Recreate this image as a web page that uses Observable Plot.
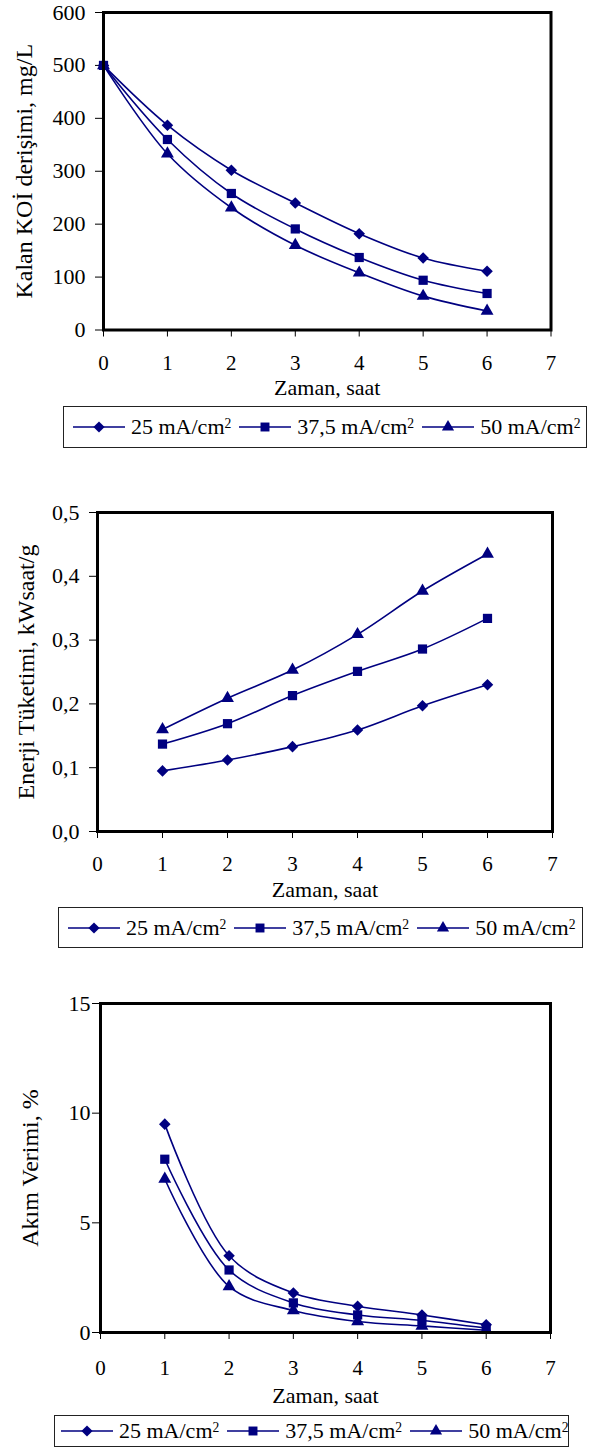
<!DOCTYPE html>
<html>
<head>
<meta charset="utf-8">
<script src="https://cdn.jsdelivr.net/npm/d3@7"></script>
<script src="https://cdn.jsdelivr.net/npm/@observablehq/plot@0.6"></script>
<style>
  body { margin: 0; background: #fff; }
  #page { position: relative; width: 589px; height: 1452px; overflow: hidden;
          font-family: 'Liberation Serif', serif; color: #000; }
  .chart { position: absolute; left: 0; overflow: visible; }
  .chart, .chart text { font-family: 'Liberation Serif', serif !important; }
  .legend { position: absolute; box-sizing: border-box; border: 1px solid #222; background: #fff;
            display: flex; align-items: center; white-space: nowrap; font-family: 'Liberation Serif', serif; }
  .item { display: flex; align-items: center; }
  .item svg { display: block; }
  .item .lbl { margin: 0 8px 0 6px; }
  .item .sup { display: inline-block; font-size: 0.62em; transform: translateY(-0.45em); }
</style>
</head>
<body>
<div id="page"></div>
<script>
// Series (current density) and their markers
const seriesNames = ["25 mA/cm²", "37,5 mA/cm²", "50 mA/cm²"];
const seriesSymbols = ["diamond2", "square", "triangle"];

// Remaining COD concentration, mg/L
const codTime = [0, 1, 2, 3, 4, 5, 6];
const cod25 = [500, 387, 302, 240, 182, 136, 111];
const cod375 = [500, 360, 258, 191, 137, 94, 69];
const cod50 = [500, 333, 231, 160, 108, 64, 36];

// Energy consumption, kWh/g
const energyTime = [1, 2, 3, 4, 5, 6];
const energy25 = [0.095, 0.112, 0.133, 0.159, 0.197, 0.230];
const energy375 = [0.137, 0.169, 0.213, 0.251, 0.286, 0.334];
const energy50 = [0.160, 0.209, 0.253, 0.309, 0.377, 0.435];

// Current efficiency, %
const effTime = [1, 2, 3, 4, 5, 6];
const eff25 = [9.5, 3.5, 1.8, 1.2, 0.8, 0.35];
const eff375 = [7.9, 2.85, 1.35, 0.8, 0.55, 0.2];
const eff50 = [7.0, 2.1, 1.0, 0.5, 0.3, 0.1];

// Tick values
const xTicks = [0, 1, 2, 3, 4, 5, 6, 7];
const codTicks = [0, 100, 200, 300, 400, 500, 600];
const energyTicks = [0, 0.1, 0.2, 0.3, 0.4, 0.5];
const effTicks = [0, 5, 10, 15];

const NAVY = "#000080";
const FONT = "'Liberation Serif', serif";
const page = document.getElementById("page");

function tidy(time, groups) {
  const rows = [];
  groups.forEach((vals, i) => vals.forEach((v, j) => rows.push({t: time[j], v, s: seriesNames[i]})));
  return rows;
}

function drawChart(o) {
  const rows = tidy(o.time, o.groups);
  // markers: squares drawn last so they sit on top where points coincide
  const dotOrder = [0, 2, 1];
  const plot = Plot.plot({
    width: 589,
    height: o.height,
    marginTop: o.mt,
    marginBottom: o.mb,
    marginLeft: o.ml,
    marginRight: o.mr,
    style: {fontFamily: FONT, fontSize: "21px", color: "#000", background: "transparent", overflow: "visible"},
    x: {domain: [0, 7]},
    y: {domain: o.yDomain},
    marks: [
      Plot.axisX({ticks: xTicks, tickSize: 7, tickPadding: o.xPad, tickFormat: d => String(d), label: null, fontSize: 21}),
      Plot.axisY({ticks: o.yTicks, tickSize: 8, tickPadding: o.yPad, tickFormat: o.yFormat, label: null, fontSize: 22}),
      Plot.line(rows, {x: "t", y: "v", z: "s", stroke: NAVY, strokeWidth: 1.6, curve: "catmull-rom"}),
      ...dotOrder.map(i => Plot.dot(rows.filter(d => d.s === seriesNames[i]),
        {x: "t", y: "v", symbol: seriesSymbols[i], r: seriesSymbols[i] === "triangle" ? 4.8 : 5.2, fill: NAVY, stroke: "none"})),
      Plot.frame({stroke: "#000", strokeWidth: 3}),
      Plot.text(["Zaman, saat"], {frameAnchor: "bottom", dy: o.titleDy, fontSize: 22, lineAnchor: "middle", fontFamily: FONT}),
      Plot.text([o.yLabel], {frameAnchor: "left", textAnchor: "middle", rotate: -90, dx: -(o.ml - o.yLabelX), fontSize: 24, lineAnchor: "middle", fontFamily: FONT})
    ]
  });
  plot.classList.add("chart");
  plot.style.top = o.top + "px";
  page.appendChild(plot);
}

function drawLegend(o) {
  const box = document.createElement("div");
  box.className = "legend";
  Object.assign(box.style, {left: o.left + "px", top: o.top + "px", width: o.width + "px",
    height: o.height + "px", paddingLeft: o.pad + "px", fontSize: o.fontSize + "px"});
  seriesNames.forEach((name, i) => {
    const item = document.createElement("div");
    item.className = "item";
    const svg = d3.create("svg").attr("width", 52).attr("height", 20);
    svg.append("line").attr("x1", 0).attr("x2", 52).attr("y1", 10).attr("y2", 10)
      .attr("stroke", NAVY).attr("stroke-width", 1.6);
    const sym = {diamond2: d3.symbolDiamond2, square: d3.symbolSquare, triangle: d3.symbolTriangle}[seriesSymbols[i]];
    const size = seriesSymbols[i] === "triangle" ? 64 : 80;
    svg.append("path").attr("d", d3.symbol(sym, size)()).attr("transform", "translate(26,10)").attr("fill", NAVY);
    item.appendChild(svg.node());
    const lbl = document.createElement("span");
    lbl.className = "lbl";
    lbl.textContent = name.replace("²", "");
    const sup = document.createElement("span");
    sup.className = "sup";
    sup.textContent = "2";
    lbl.appendChild(sup);
    item.appendChild(lbl);
    box.appendChild(item);
  });
  page.appendChild(box);
}

const comma1 = d => d.toFixed(1).replace(".", ",");

drawChart({time: codTime, groups: [cod25, cod375, cod50], top: 0, height: 400,
  mt: 12, mb: 70.5, ml: 103, mr: 38.5, yDomain: [0, 600], yTicks: codTicks, yFormat: d => String(d),
  xPad: 18, yPad: 10, titleDy: 58, yLabel: "Kalan KOİ derişimi, mg/L", yLabelX: 24});
drawLegend({left: 63, top: 406, width: 524, height: 42, pad: 9, fontSize: 22});

drawChart({time: energyTime, groups: [energy25, energy375, energy50], top: 470, height: 430,
  mt: 42, mb: 69, ml: 97, mr: 37, yDomain: [0, 0.5], yTicks: energyTicks, yFormat: comma1,
  xPad: 18, yPad: 10, titleDy: 58.5, yLabel: "Enerji Tüketimi, kWsaat/g", yLabelX: 26});
drawLegend({left: 58, top: 907, width: 525, height: 41, pad: 9, fontSize: 22});

drawChart({time: effTime, groups: [eff25, eff375, eff50], top: 960, height: 450,
  mt: 43, mb: 78, ml: 100, mr: 39, yDomain: [0, 15], yTicks: effTicks, yFormat: d => String(d),
  xPad: 21, yPad: 2, titleDy: 63, yLabel: "Akım Verimi, %", yLabelX: 30});
drawLegend({left: 54, top: 1415, width: 515, height: 32, pad: 6, fontSize: 22});
</script>
</body>
</html>
